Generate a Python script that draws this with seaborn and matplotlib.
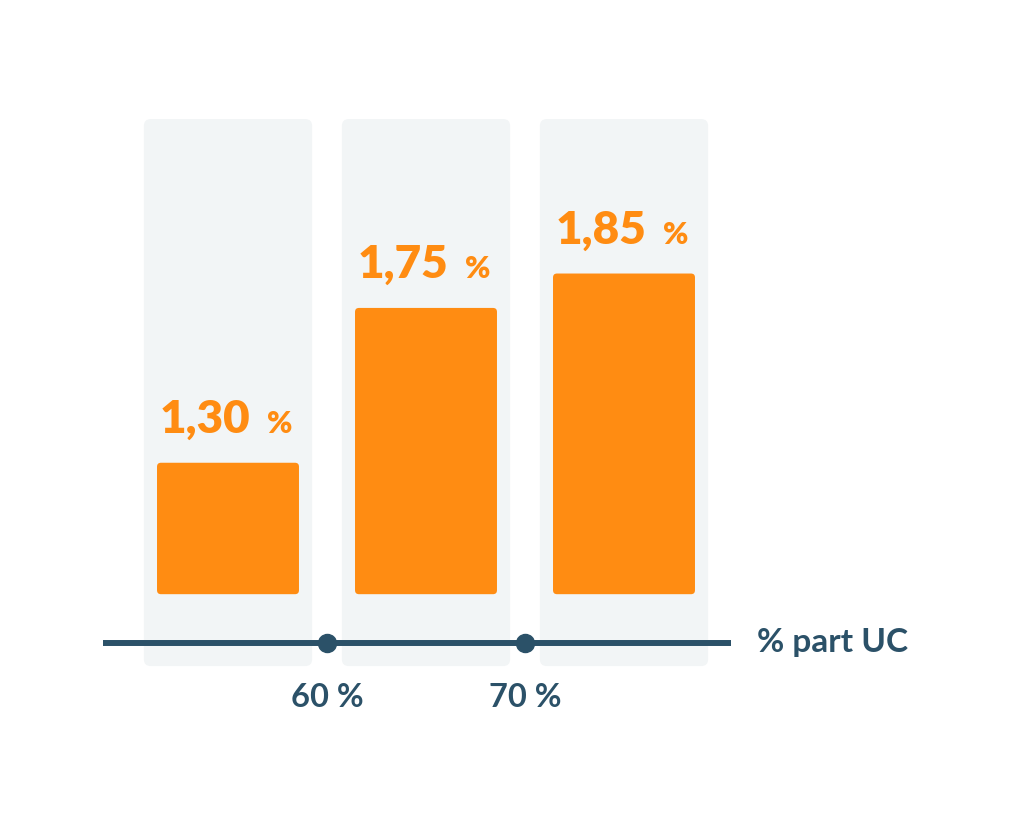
import matplotlib
matplotlib.use("Agg")
import matplotlib.pyplot as plt
from matplotlib.patches import FancyBboxPatch
import numpy as np
import pandas as pd
import seaborn as sns

# data
categories = ["< 60 %", "60 - 70 %", "> 70 %"]
values = [1.30, 1.75, 1.85]
value_labels = ["1,30", "1,75", "1,85"]
tick_labels = ["60 %", "70 %"]
axis_title = "% part UC"

orange = "#FF8C12"
navy = "#2B5168"
panel = "#F2F5F6"

sns.set_theme(style="white")
plt.rcParams["font.family"] = ["Lato", "DejaVu Sans"]

df = pd.DataFrame({"cat": categories, "val": values})

fig = plt.figure(figsize=(10.24, 8.13), dpi=100)
ax = fig.add_axes([0, 0, 1, 1])

sns.barplot(data=df, x="cat", y="val", color=orange, saturation=1,
            width=0.717, ax=ax, zorder=2)

ax.set_xlim(-1.1515, 4.0202)
ax.set_ylim(0.282, 2.645)
aspect = (198 / 344)
base = 0.918

# grey panels behind each bar
for i in range(len(categories)):
    bg = FancyBboxPatch((i - 0.425, 0.709), 0.85, 2.299 - 0.709,
                        boxstyle="round,pad=0,rounding_size=0.035",
                        mutation_aspect=aspect, fc=panel, ec="none", zorder=0)
    ax.add_patch(bg)

# rounded bars, starting from the base line
for p, v, lab in zip(list(ax.patches), values, value_labels):
    x, w = p.get_x(), p.get_width()
    if not isinstance(p, FancyBboxPatch):
        p.remove()
    bar = FancyBboxPatch((x, base), w, v - base,
                         boxstyle="round,pad=0,rounding_size=0.02",
                         mutation_aspect=aspect, fc=orange, ec="none", zorder=2)
    ax.add_patch(bar)
    cx = x + w / 2
    ax.annotate(lab, (cx, v), xytext=(16, 21.5), textcoords="offset points",
                ha="right", va="baseline", fontsize=33, fontweight="heavy",
                color=orange)
    ax.annotate("%", (cx, v), xytext=(28, 21.5), textcoords="offset points",
                ha="left", va="baseline", fontsize=22, fontweight="heavy",
                color=orange)

# axis line with dots between categories
line_y = 0.776
ax.plot([-0.631, 2.540], [line_y, line_y], color=navy, lw=4.3,
        solid_capstyle="butt", zorder=3)
tick_pos = np.arange(len(tick_labels)) + 0.5
ax.plot(tick_pos, [line_y] * len(tick_pos), "o", color=navy, ms=13, zorder=4)
for t, lab in zip(tick_pos, tick_labels):
    ax.text(t, 0.59, lab, ha="center", va="baseline", fontsize=23.5,
            fontweight="bold", color=navy)
ax.text(2.672, 0.75, axis_title, ha="left", va="baseline", fontsize=24,
        fontweight="bold", color=navy)

ax.axis("off")
fig.savefig("out.png", dpi=100, facecolor="white")
